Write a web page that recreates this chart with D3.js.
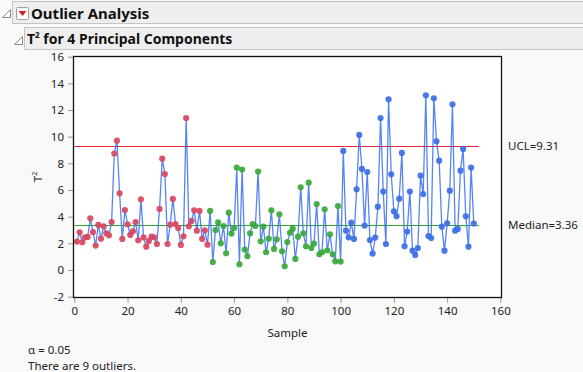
<!DOCTYPE html>
<html>
<head>
<meta charset="utf-8">
<script src="https://cdn.jsdelivr.net/npm/d3@7"></script>
<style>
  body { margin: 0; background: #f9f9f9; }
  svg { display: block; font-family: "Noto Sans", sans-serif; }
</style>
</head>
<body>
<svg id="chart" width="583" height="372"></svg>
<script>
// T² values per sample (samples 1..150)
const t2 = [
  2.13, 2.83, 2.08, 2.45, 2.48, 3.88, 2.85, 1.83, 3.38, 2.35,
  3.28, 2.75, 2.6, 3.6, 8.73, 9.7, 5.75, 2.33, 4.5, 3.43,
  2.63, 2.9, 3.6, 2.23, 5.3, 2.45, 1.75, 2.18, 2.5, 2.45,
  1.95, 4.58, 8.35, 7.2, 1.95, 3.4, 5.33, 3.45, 3.15, 1.88,
  2.53, 11.4, 3.28, 3.68, 4.48, 2.95, 4.43, 2.33, 2.98, 1.9,
  4.43, 0.6, 3.0, 3.58, 2.0, 3.3, 1.25, 4.3, 2.73, 3.15,
  7.68, 0.43, 7.53, 1.53, 1.03, 2.75, 3.45, 3.3, 7.38, 2.15,
  3.25, 1.33, 2.35, 4.48, 1.58, 2.3, 4.18, 1.4, 0.28, 2.1,
  2.8, 3.1, 0.83, 2.5, 6.2, 2.75, 1.78, 6.55, 1.65, 1.98,
  4.95, 1.18, 1.33, 4.55, 1.48, 2.68, 1.18, 0.65, 4.8, 0.63,
  8.93, 2.95, 2.45, 3.55, 2.33, 6.05, 10.13, 7.58, 3.33, 7.35,
  2.25, 1.23, 2.43, 4.75, 11.4, 5.88, 1.95, 12.8, 7.18, 4.4,
  4.03, 5.35, 8.78, 1.78, 2.88, 5.88, 1.45, 1.13, 1.65, 7.08,
  5.7, 13.1, 2.55, 2.4, 12.88, 9.65, 8.2, 3.25, 1.45, 3.5,
  5.95, 12.43, 2.95, 3.08, 7.45, 9.08, 4.03, 1.75, 7.68, 3.48
];
// group of each block of 50 samples
const groups = ["a", "b", "c"];
const groupColors = { a: "#d8485f", b: "#37a93a", c: "#3c6fe4" };

const ucl = 9.31;
const median = 3.36;
const alpha = 0.05;
const xTicks = [0, 20, 40, 60, 80, 100, 120, 140, 160];
const yTicks = [-2, 0, 2, 4, 6, 8, 10, 12, 14, 16];

const data = t2.map((v, i) => ({ s: i + 1, v: v, g: groups[Math.floor(i / 50)] }));
const nOut = data.filter(d => d.v > ucl).length;

const svg = d3.select("#chart");
const frame = { left: 73, right: 502, top: 56, bottom: 298 };

// ---- headers ----
function disclosure(x, y) {
  svg.append("path")
    .attr("d", `M${x},${y + 8} L${x + 8},${y + 8} L${x + 8},${y} Z`)
    .attr("fill", "#fff").attr("stroke", "#8a8a8a").attr("stroke-width", 1);
}
svg.append("rect").attr("x", 12.5).attr("y", 1.5).attr("width", 575).attr("height", 22)
  .attr("fill", "#eeeeee").attr("stroke", "#c4c4c4");
disclosure(2.5, 9.5);
svg.append("rect").attr("x", 16.5).attr("y", 7.5).attr("width", 12).attr("height", 12).attr("rx", 1)
  .attr("fill", "#fff").attr("stroke", "#a0a0a0");
svg.append("path").attr("d", "M18.5,11 L26.5,11 L22.5,16 Z").attr("fill", "#d21e1e");
svg.append("text").attr("x", 31).attr("y", 19).attr("font-size", 15).attr("font-weight", "bold")
  .attr("fill", "#111").text("Outlier Analysis");

svg.append("rect").attr("x", 24.5).attr("y", 27.5).attr("width", 565).attr("height", 22)
  .attr("fill", "#eeeeee").attr("stroke", "#c4c4c4");
disclosure(14.5, 36.5);
const h2 = svg.append("text").attr("x", 27).attr("y", 44).attr("font-size", 14).attr("font-weight", "bold")
  .attr("fill", "#111");
h2.append("tspan").text("T");
h2.append("tspan").attr("font-size", 8).attr("dy", -6).text("2");
h2.append("tspan").attr("dy", 6).text(" for 4 Principal Components");

// ---- scales ----
const x = d3.scaleLinear().domain([-0.5, 160.6]).range([frame.left, frame.right]);
const y = d3.scaleLinear().domain([-2.1, 16.05]).range([frame.bottom, frame.top]);

svg.append("rect").attr("x", frame.left).attr("y", frame.top)
  .attr("width", frame.right - frame.left).attr("height", frame.bottom - frame.top)
  .attr("fill", "#fff");

// axes
const xAxis = g => g
  .attr("transform", "translate(0," + frame.bottom + ")")
  .call(d3.axisBottom(x).tickValues(xTicks).tickSize(5).tickSizeOuter(0).tickPadding(4));
const yAxis = g => g
  .attr("transform", "translate(" + frame.left + ",0)")
  .call(d3.axisLeft(y).tickValues(yTicks).tickSize(5).tickSizeOuter(0).tickPadding(4)
    .tickFormat(d => d < 0 ? "-" + Math.abs(d) : d));

[svg.append("g").call(xAxis), svg.append("g").call(yAxis)].forEach(g => {
  g.select(".domain").remove();
  g.selectAll(".tick line").attr("stroke", "#9a9a9a");
  g.selectAll(".tick text").attr("font-size", 11.5).attr("fill", "#222")
    .attr("font-family", "Noto Sans, sans-serif");
});

// reference lines
[[ucl, "#e8283a"], [median, "#2ea62e"]].forEach(([v, c]) => {
  svg.append("line").attr("x1", x(0)).attr("x2", x(152))
    .attr("y1", Math.round(y(v)) + 0.5).attr("y2", Math.round(y(v)) + 0.5)
    .attr("stroke", c).attr("stroke-width", 1.2);
});

// connecting line
svg.append("path").datum(data)
  .attr("fill", "none").attr("stroke", "#3a6ff2").attr("stroke-width", 1.3).attr("stroke-opacity", 0.85)
  .attr("d", d3.line().x(d => x(d.s)).y(d => y(d.v)));

// markers
svg.append("g").selectAll("circle").data(data).join("circle")
  .attr("cx", d => x(d.s)).attr("cy", d => y(d.v)).attr("r", 3.1)
  .attr("fill", d => groupColors[d.g]).attr("fill-opacity", 0.92);

// frame border
svg.append("rect").attr("x", frame.left + 0.5).attr("y", frame.top + 0.5)
  .attr("width", frame.right - frame.left - 1).attr("height", frame.bottom - frame.top - 1)
  .attr("fill", "none").attr("stroke", "#111").attr("stroke-width", 1.3);

// labels
svg.append("text").attr("x", 508).attr("y", y(ucl) + 4).attr("font-size", 11.5).attr("fill", "#222")
  .text("UCL=" + ucl.toFixed(2));
svg.append("text").attr("x", 508).attr("y", y(median) + 4).attr("font-size", 11.5).attr("fill", "#222")
  .text("Median=" + median.toFixed(2));

svg.append("text").attr("x", (frame.left + frame.right) / 2).attr("y", 337).attr("text-anchor", "middle")
  .attr("font-size", 11.5).attr("fill", "#222").text("Sample");
const yl = svg.append("text").attr("transform", "translate(42," + ((frame.top + frame.bottom) / 2) + ") rotate(-90)")
  .attr("text-anchor", "middle").attr("font-size", 11.5).attr("fill", "#222");
yl.append("tspan").text("T");
yl.append("tspan").attr("font-size", 7).attr("dy", -5).text("2");

svg.append("text").attr("x", 28).attr("y", 354).attr("font-size", 11.5).attr("fill", "#222")
  .text("α = " + alpha.toFixed(2));
svg.append("text").attr("x", 28).attr("y", 370).attr("font-size", 11.5).attr("fill", "#222")
  .text("There are " + nOut + " outliers.");
</script>
</body>
</html>
